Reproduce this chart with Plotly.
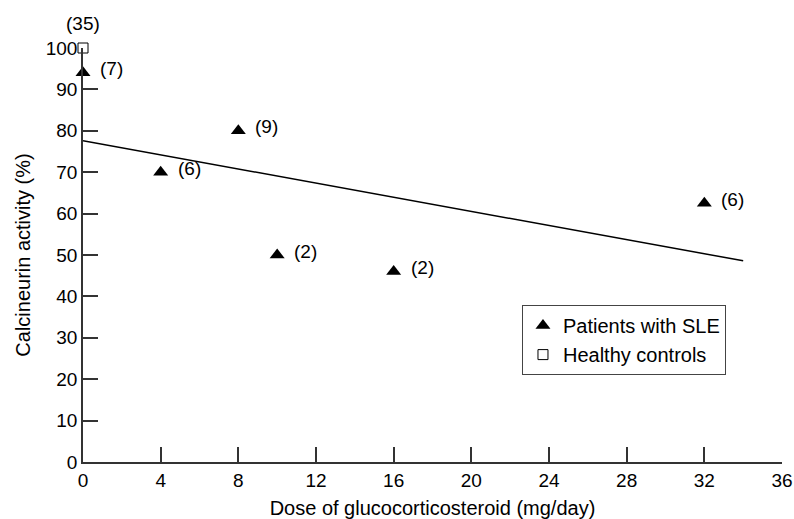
import plotly.graph_objects as go

# Data
sle_dose = [0, 4, 8, 10, 16, 32]
sle_activity = [94, 70, 80, 50, 46, 62.5]
sle_n = ["(7)", "(6)", "(9)", "(2)", "(2)", "(6)"]

ctrl_dose = [0]
ctrl_activity = [100]
ctrl_n = ["(35)"]

fit_dose = [0, 34]
fit_activity = [77.6, 48.6]

x_ticks = [0, 4, 8, 12, 16, 20, 24, 28, 32, 36]
y_ticks = [0, 10, 20, 30, 40, 50, 60, 70, 80, 90, 100]

FONT = "Liberation Sans, Arial, Helvetica, sans-serif"

fig = go.Figure()

fig.add_trace(go.Scatter(
    x=fit_dose, y=fit_activity, mode="lines",
    line=dict(color="black", width=1.5), showlegend=False, hoverinfo="skip"))

fig.add_trace(go.Scatter(
    x=sle_dose, y=sle_activity, mode="markers", name="Patients with SLE",
    marker=dict(symbol="triangle-up", size=13, color="black"),
    cliponaxis=False))

fig.add_trace(go.Scatter(
    x=ctrl_dose, y=ctrl_activity, mode="markers", name="Healthy controls",
    marker=dict(symbol="square-open", size=10, color="black", line=dict(width=1)),
    cliponaxis=False))

for x, y, t in zip(sle_dose, sle_activity, sle_n):
    fig.add_annotation(x=x, y=y, text=t, showarrow=False, xanchor="left",
                       xshift=15, yshift=4, font=dict(size=19, color="black", family=FONT))
for x, y, t in zip(ctrl_dose, ctrl_activity, ctrl_n):
    fig.add_annotation(x=x, y=y, text=t, showarrow=False, yanchor="bottom",
                       yshift=12, font=dict(size=19, color="black", family=FONT))

axis_common = dict(
    showgrid=False, zeroline=False, showline=True, linecolor="#333",
    linewidth=1.5, ticks="inside", ticklen=15, tickcolor="#333", tickwidth=1.5,
    tickfont=dict(size=19, color="black", family=FONT), automargin=False,
)

fig.update_layout(
    width=794, height=519,
    margin=dict(l=83, r=12, t=48, b=57),
    plot_bgcolor="white", paper_bgcolor="white",
    font=dict(family=FONT, color="black", size=19),
    xaxis=dict(range=[0, 36], tickvals=x_ticks, ticktext=[str(v) for v in x_ticks],
               title=dict(text="Dose of glucocorticosteroid (mg/day)", standoff=12,
                          font=dict(size=20, family=FONT)),
               **axis_common),
    yaxis=dict(range=[0, 100], tickvals=y_ticks, ticktext=[str(v) for v in y_ticks],
               title=dict(text="Calcineurin activity (%)", standoff=10,
                          font=dict(size=20, family=FONT)),
               **axis_common),
    legend=dict(x=0.628, y=0.379, xanchor="left", yanchor="top",
                bordercolor="#444", borderwidth=1, bgcolor="white",
                font=dict(size=20, family=FONT), itemwidth=30,
                tracegroupgap=0),
    showlegend=True,
)

fig.write_html("out.html")
